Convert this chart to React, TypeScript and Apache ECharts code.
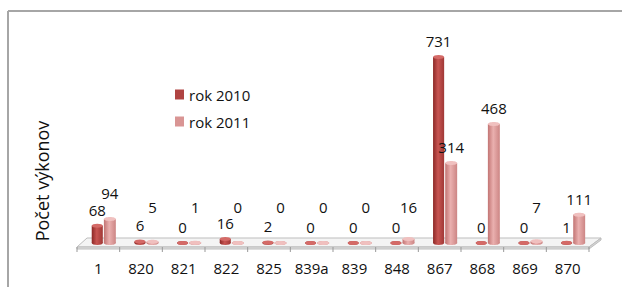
import React, { useEffect, useRef } from "react";
import * as echarts from "echarts";

const categories = ["1", "820", "821", "822", "825", "839a", "839", "848", "867", "868", "869", "870"];
const values2010 = [68, 6, 0, 16, 2, 0, 0, 0, 731, 0, 0, 1];
const values2011 = [94, 5, 1, 0, 0, 0, 0, 16, 314, 468, 7, 111];
const seriesNames = ["rok 2010", "rok 2011"];
const allValues = [values2010, values2011];

const GRID_LEFT = 77;
const GRID_RIGHT_X = 589;
const BASE_Y = 243;
const Y_MAX = 800;
const FONT = '"Open Sans", "Liberation Sans", sans-serif';
const LABEL_SIZE = 15;

const palette = [
  { legend: "#b04442", g: ["#8c2826", "#c85552", "#a03836"], cap: "#d46a67" },
  { legend: "#d99594", g: ["#c27473", "#eab0af", "#cc8584"], cap: "#f0c0bf" },
];

function makeRender(s: number) {
  return (params: any, api: any) => {
    const i = api.value(0);
    const v = api.value(1);
    const base = api.coord([i, 0]);
    const top = api.coord([i, v]);
    const bw = api.size([1, 0])[0];
    const cx = base[0] + (s === 0 ? -0.025 : 0.27) * bw;
    const w = (s === 0 ? 0.26 : 0.28) * bw;
    const ry = 2;
    const c = palette[s];
    const grad = new echarts.graphic.LinearGradient(0, 0, 1, 0, [
      { offset: 0, color: c.g[0] },
      { offset: 0.45, color: c.g[1] },
      { offset: 1, color: c.g[2] },
    ]);
    let ly = top[1] - 16;
    if (s === 1) {
      ly = Math.min(ly, base[1] - 36);
      const other = api.coord([i, allValues[0][i]])[1] - 16;
      if (Math.abs(ly - other) < 15) ly = other - 17;
    }
    return {
      type: "group",
      children: [
        { type: "ellipse", shape: { cx, cy: base[1], rx: w / 2, ry }, style: { fill: grad } },
        { type: "rect", shape: { x: cx - w / 2, y: top[1], width: w, height: base[1] - top[1] }, style: { fill: grad } },
        { type: "ellipse", shape: { cx, cy: top[1], rx: w / 2, ry }, style: { fill: c.cap } },
        {
          type: "text",
          style: {
            text: String(v),
            x: cx,
            y: ly,
            align: "center",
            verticalAlign: "middle",
            fontSize: LABEL_SIZE,
            fontFamily: FONT,
            fill: "#111",
          },
        },
      ],
    };
  };
}

export default function App() {
  const ref = useRef<HTMLDivElement>(null);
  useEffect(() => {
    if (!ref.current) return;
    const chart = echarts.init(ref.current, null, { renderer: "svg" });
    const n = categories.length;
    const step = (GRID_RIGHT_X - GRID_LEFT) / n;
    const ticks: any[] = [];
    for (let k = 0; k <= n; k++) {
      const x = GRID_LEFT + k * step;
      ticks.push({ type: "line", z: 0, shape: { x1: x, y1: 247, x2: x, y2: 252 }, style: { stroke: "#999", lineWidth: 1 } });
    }
    chart.setOption({
      animation: false,
      backgroundColor: "#fff",
      grid: { left: GRID_LEFT, right: 622 - GRID_RIGHT_X, top: BASE_Y - Y_MAX * 0.2545, bottom: 287 - BASE_Y },
      xAxis: {
        type: "category",
        data: categories,
        axisLine: { show: false },
        axisTick: { show: false },
        axisLabel: { interval: 0, hideOverlap: false, margin: 17, fontSize: LABEL_SIZE, fontFamily: FONT, color: "#111" },
      },
      yAxis: { type: "value", min: 0, max: Y_MAX, show: false },
      legend: {
        orient: "vertical",
        left: 170,
        top: 82,
        itemWidth: 9,
        itemHeight: 10,
        itemGap: 12,
        icon: "rect",
        data: seriesNames,
        textStyle: { fontSize: 15, fontFamily: FONT, color: "#111" },
      },
      graphic: [
        { type: "line", z: 0, shape: { x1: 8, y1: 11, x2: 622, y2: 11 }, style: { stroke: "#a6a6a6", lineWidth: 2 } },
        { type: "line", z: 0, shape: { x1: 8, y1: 11, x2: 8, y2: 287 }, style: { stroke: "#a6a6a6", lineWidth: 2 } },
        {
          type: "polygon",
          z: 0,
          shape: { points: [[GRID_LEFT, 247], [GRID_RIGHT_X, 247], [601, 238], [87, 238]] },
          style: { fill: "#f4f4f4", stroke: "#bdbdbd", lineWidth: 1 },
        },
        {
          type: "polygon",
          z: 0,
          shape: { points: [[GRID_LEFT, 247], [GRID_RIGHT_X, 247], [GRID_RIGHT_X, 249], [GRID_LEFT, 249]] },
          style: { fill: "#e0e0e0", stroke: "#bdbdbd", lineWidth: 1 },
        },
        {
          type: "polygon",
          z: 0,
          shape: { points: [[GRID_RIGHT_X, 247], [601, 238], [601, 240], [GRID_RIGHT_X, 249]] },
          style: { fill: "#d6d6d6", stroke: "#bdbdbd", lineWidth: 1 },
        },
        ...ticks,
        {
          type: "text",
          x: 42,
          y: 181,
          rotation: Math.PI / 2,
          style: {
            text: "Počet výkonov",
            align: "center",
            verticalAlign: "middle",
            fontSize: 18,
            fontFamily: FONT,
            fill: "#111",
          },
        },
      ],
      series: allValues.map((vals, s) => ({
        type: "custom",
        name: seriesNames[s],
        renderItem: makeRender(s),
        itemStyle: { color: palette[s].legend },
        encode: { x: 0, y: 1 },
        data: vals.map((v, i) => [i, v]),
        z: 2,
      })),
    });
    return () => chart.dispose();
  }, []);
  return (
    <div
      ref={ref}
      style={{ position: "absolute", left: 0, top: 0, width: 622, height: 287, background: "#fff" }}
    />
  );
}
